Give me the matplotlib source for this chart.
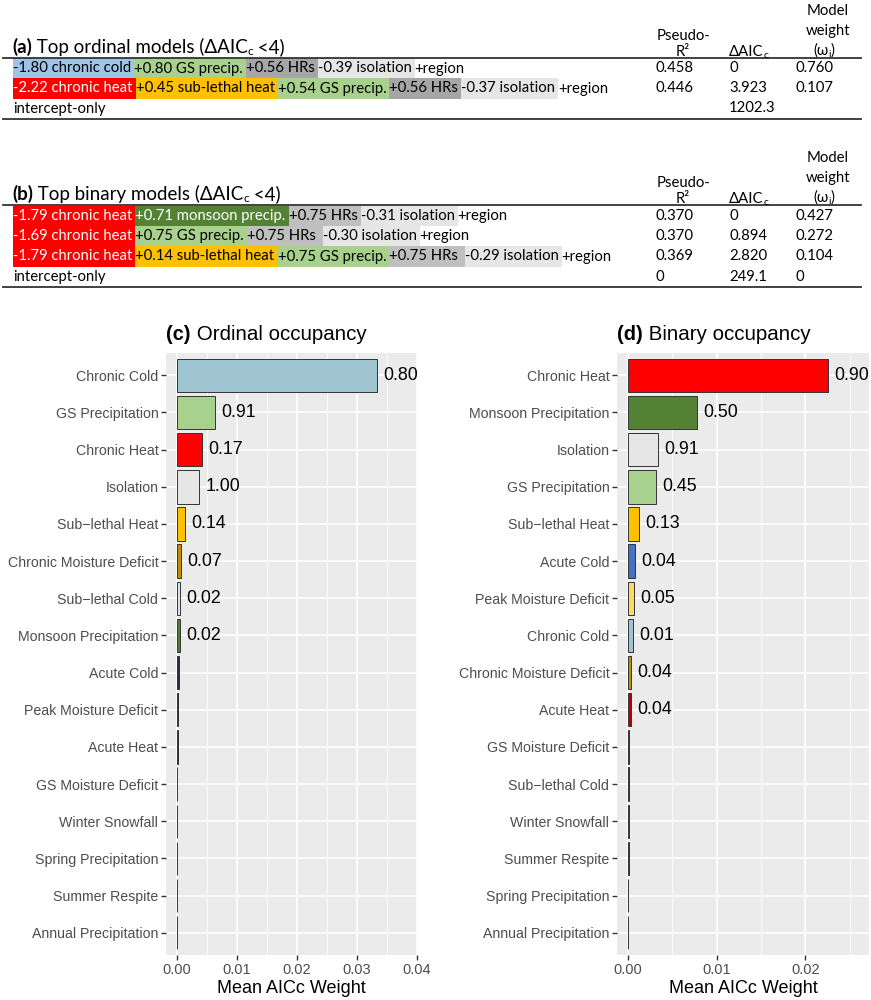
import numpy as np
import matplotlib.pyplot as plt
from matplotlib.patches import Rectangle

W, H = 871, 1000

# ---- table data ----
ord_terms = [
    [("-1.80 chronic cold", "cold"), ("+0.80 GS precip.", "gs"), ("+0.56 HRs", "hrs_a"),
     ("-0.39 isolation", "iso"), ("+region", None)],
    [("-2.22 chronic heat", "heat"), ("+0.45 sub-lethal heat", "slheat"), ("+0.54 GS precip.", "gs"),
     ("+0.56 HRs", "hrs_a"), ("-0.37 isolation", "iso"), ("+region", None)],
    [("intercept-only", None)],
]
ord_r2 = ["0.458", "0.446", ""]
ord_daic = ["0", "3.923", "1202.3"]
ord_w = ["0.760", "0.107", ""]

bin_terms = [
    [("-1.79 chronic heat", "heat"), ("+0.71 monsoon precip.", "monsoon"), ("+0.75 HRs", "hrs_b"),
     ("-0.31 isolation", "iso"), ("+region", None)],
    [("-1.69 chronic heat", "heat"), ("+0.75 GS precip.", "gs"), ("+0.75 HRs ", "hrs_b"),
     ("-0.30 isolation", "iso"), ("+region", None)],
    [("-1.79 chronic heat", "heat"), ("+0.14 sub-lethal heat", "slheat"), ("+0.75 GS precip.", "gs"),
     ("+0.75 HRs ", "hrs_b"), ("-0.29 isolation", "iso"), ("+region", None)],
    [("intercept-only", None)],
]
bin_r2 = ["0.370", "0.370", "0.369", "0"]
bin_daic = ["0", "0.894", "2.820", "249.1"]
bin_w = ["0.427", "0.272", "0.104", "0"]

term_colors = {"cold": "#9dc3e6", "gs": "#a9d18e", "hrs_a": "#a6a6a6", "hrs_b": "#bfbfbf",
               "iso": "#e7e6e6", "heat": "#ff0000", "slheat": "#ffc000", "monsoon": "#548235"}
white_text = {"heat", "monsoon"}

# ---- bar data ----
names_c = ["Chronic Cold", "GS Precipitation", "Chronic Heat", "Isolation", "Sub\u2212lethal Heat",
           "Chronic Moisture Deficit", "Sub\u2212lethal Cold", "Monsoon Precipitation", "Acute Cold",
           "Peak Moisture Deficit", "Acute Heat", "GS Moisture Deficit", "Winter Snowfall",
           "Spring Precipitation", "Summer Respite", "Annual Precipitation"]
weights_c = [0.0333, 0.0063, 0.0042, 0.0037, 0.0014, 0.00065, 0.00055, 0.00045, 0.0003,
             0.0002, 0.0001, 0.00006, 0.00005, 0.00005, 0.00005, 0.00005]
labels_c = ["0.80", "0.91", "0.17", "1.00", "0.14", "0.07", "0.02", "0.02",
            "", "", "", "", "", "", "", ""]
colors_c = ["#9fc5d3", "#a9d18e", "#ff0000", "#e6e6e6", "#ffc000", "#bf9000", "#dae3f3", "#548235",
            "#1f2a44", "#3a3000", "#4a0000", "#7f6000", "#ffffff", "#9dc3e6", "#c00000", "#a9d18e"]

names_d = ["Chronic Heat", "Monsoon Precipitation", "Isolation", "GS Precipitation", "Sub\u2212lethal Heat",
           "Acute Cold", "Peak Moisture Deficit", "Chronic Cold", "Chronic Moisture Deficit", "Acute Heat",
           "GS Moisture Deficit", "Sub\u2212lethal Cold", "Winter Snowfall", "Summer Respite",
           "Spring Precipitation", "Annual Precipitation"]
weights_d = [0.0226, 0.0078, 0.0034, 0.0032, 0.00124, 0.00075, 0.00068, 0.0006, 0.00038, 0.00038,
             0.00015, 0.0001, 0.00008, 0.00006, 0.00005, 0.00004]
labels_d = ["0.90", "0.50", "0.91", "0.45", "0.13", "0.04", "0.05", "0.01", "0.04", "0.04",
            "", "", "", "", "", ""]
colors_d = ["#ff0000", "#548235", "#e6e6e6", "#a9d18e", "#ffc000", "#4472c4", "#ffd966", "#9fc5d3",
            "#bf9000", "#c00000", "#3a3000", "#dae3f3", "#ffffff", "#c00000", "#9dc3e6", "#a9d18e"]

fig = plt.figure(figsize=(W / 100, H / 100), dpi=100)
rend = fig.canvas.get_renderer()
TFONT = ["Lato", "DejaVu Sans"]
CFONT = ["Liberation Sans", "DejaVu Sans"]
TS = 10.7


def fx(px):
    return px / W


def fy(py):
    return 1 - py / H


def put(x, y, s, size, family=TFONT, weight="normal", color="black", ha="left", va="center"):
    t = fig.text(fx(x), fy(y), s, fontsize=size, family=family, fontweight=weight,
                 color=color, ha=ha, va=va, zorder=3)
    return t.get_window_extent(rend).width


def pieces(x, y, parts, family=TFONT):
    # parts: (text, size, weight, dy)
    for s, size, weight, dy in parts:
        x += put(x, y + dy, s, size, family=family, weight=weight, va="baseline")
    return x


def hline(y, x0=3, x1=861):
    fig.add_artist(plt.Line2D([fx(x0), fx(x1)], [fy(y), fy(y)], color="#333333", lw=1.3))


def draw_row(x, yc, terms, size=TS, gap=3):
    for s, key in terms:
        color = "white" if key in white_text else "black"
        w = put(x, yc, s, size, color=color)
        if key:
            fig.add_artist(Rectangle((fx(x), fy(yc + 10)), fx(w + gap), 20 / H,
                                     transform=fig.transFigure, fc=term_colors[key], ec="none", zorder=1))
        x += w + gap


def table(top, title, terms, r2, daic, wts, row_y):
    # column headers (baselines)
    put(828, top + 15, "Model", TS, ha="center", va="baseline")
    put(828, top + 35, "weight", TS, ha="center", va="baseline")
    put(683, top + 40, "Pseudo-", TS, ha="center", va="baseline")
    put(683, top + 56, "R\u00b2", TS, ha="center", va="baseline")
    pieces(729, top + 56, [("\u0394AIC", TS, "normal", 0), ("c", 7.5, "normal", 2)])
    pieces(813, top + 55, [("(\u03c9", TS, "normal", 0), ("i", 7.5, "normal", 2), (")", TS, "normal", 0)])
    pieces(12, top + 53, [("(" + title[0] + ")", 13.5, "bold", 0), (" " + title[1] + " (\u0394AIC", 13.5, "normal", 0),
                          ("c", 8.5, "normal", 2), (" <4)", 13.5, "normal", 0)])
    hline(top + 58)
    for i, yc in enumerate(row_y):
        draw_row(13, yc, terms[i])
        put(655, yc, r2[i], TS)
        put(729, yc, daic[i], TS)
        put(795, yc, wts[i], TS)
    hline(row_y[-1] + 10)


table(0, ("a", "Top ordinal models"), ord_terms, ord_r2, ord_daic, ord_w, [68.5, 88.5, 108.5])
table(147, ("b", "Top binary models"), bin_terms, bin_r2, bin_daic, bin_w, [216, 236, 256.5, 277])


def bar_panel(rect, tag, title, names, weights, labels, colors, xlim, ticks, minor):
    ax = fig.add_axes(rect)
    y = np.arange(len(names))
    ax.barh(y, weights, height=0.9, color=colors, edgecolor="#333333", linewidth=0.7, zorder=3)
    for yi, w, lab in zip(y, weights, labels):
        if lab:
            ax.annotate(lab, (w, yi), xytext=(4.5, 0), textcoords="offset points", va="center",
                        ha="left", fontsize=12.8, family=CFONT, color="black")
    ax.set_facecolor("#ebebeb")
    ax.set_yticks(y, names)
    ax.set_ylim(len(names) - 0.4, -0.6)
    ax.set_xlim(*xlim)
    ax.set_xticks(ticks, [f"{v:.2f}" for v in ticks])
    ax.set_xticks(minor, minor=True)
    ax.grid(axis="x", which="major", color="white", lw=1.2, zorder=0)
    ax.grid(axis="x", which="minor", color="white", lw=0.6, zorder=0)
    ax.grid(axis="y", which="major", color="white", lw=1.2, zorder=0)
    ax.set_axisbelow(True)
    for sp in ax.spines.values():
        sp.set_visible(False)
    ax.tick_params(which="major", length=3.5, width=1, color="#333333", labelcolor="#4d4d4d", pad=2)
    ax.tick_params(axis="y", labelsize=10.2)
    ax.tick_params(axis="x", labelsize=10.5)
    ax.tick_params(which="minor", length=0)
    for lab in ax.get_xticklabels() + ax.get_yticklabels():
        lab.set_family(CFONT)
    ax.set_xlabel("Mean AICc Weight", fontsize=13, family=CFONT, labelpad=2.5)
    x0 = rect[0] * W
    pieces(x0, 340, [("(" + tag + ")", 14.3, "bold", 0), (" " + title, 14.8, "normal", 0)], family=CFONT)
    return ax


bar_panel([166 / W, 0.045, 251 / W, 0.602], "c", "Ordinal occupancy", names_c, weights_c, labels_c,
          colors_c, (-0.00183, 0.040), [0, 0.01, 0.02, 0.03, 0.04], [0.005, 0.015, 0.025, 0.035])
bar_panel([617 / W, 0.045, 252 / W, 0.602], "d", "Binary occupancy", names_d, weights_d, labels_d,
          colors_d, (-0.00124, 0.0272), [0, 0.01, 0.02], [0.005, 0.015, 0.025])

fig.savefig("out.png", dpi=100)
